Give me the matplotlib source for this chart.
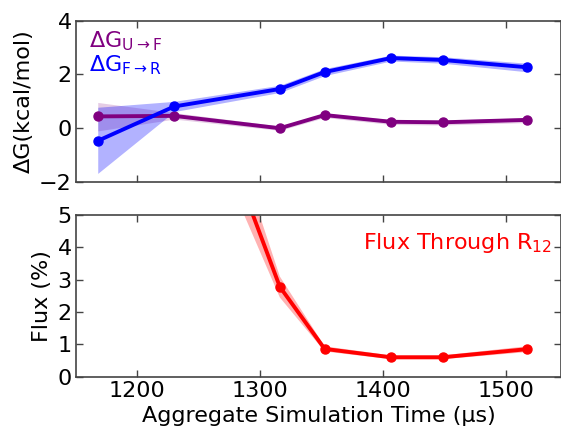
import matplotlib
matplotlib.use("Agg")
import matplotlib.pyplot as plt
import numpy as np

# Data
time_us = [1167.7, 1230, 1316, 1352.5, 1406.5, 1448.5, 1517]
dg_uf = [0.44, 0.46, 0.0, 0.49, 0.24, 0.22, 0.31]
dg_uf_lo = [-0.10, 0.34, -0.08, 0.40, 0.14, 0.12, 0.21]
dg_uf_hi = [0.96, 0.58, 0.08, 0.56, 0.32, 0.30, 0.39]
dg_fr = [-0.47, 0.81, 1.46, 2.09, 2.61, 2.54, 2.27]
dg_fr_lo = [-1.68, 0.62, 1.33, 1.96, 2.50, 2.42, 2.10]
dg_fr_hi = [0.78, 1.00, 1.60, 2.22, 2.72, 2.66, 2.42]
flux = [20.0, 11.5, 2.78, 0.86, 0.60, 0.60, 0.85]
flux_lo = [16.0, 10.0, 2.45, 0.78, 0.54, 0.54, 0.76]
flux_hi = [24.0, 13.0, 3.10, 0.94, 0.66, 0.66, 0.94]

purple = "#800080"
blue = "#0000ff"
red = "#ff0000"

plt.rcParams["mathtext.fontset"] = "dejavusans"
fig = plt.figure(figsize=(5.61, 4.33), dpi=100)
W, H = 561, 433
ax1 = fig.add_axes([76 / W, 1 - 182 / H, (561 - 76) / W, (182 - 20.7) / H])
ax2 = fig.add_axes([76 / W, 1 - 376.7 / H, (561 - 76) / W, (376.7 - 215) / H])

for ax in (ax1, ax2):
    ax.set_xlim(1150, 1545)
    for s in ax.spines.values():
        s.set_color("#444444")
        s.set_linewidth(1.2)
    ax.tick_params(direction="in", top=True, right=True, length=5, width=1,
                   color="#444444", labelsize=16, pad=3)
    ax.set_xticks([1200, 1300, 1400, 1500])

ax1.fill_between(time_us, dg_uf_lo, dg_uf_hi, color=purple, alpha=0.2, lw=0)
ax1.fill_between(time_us, dg_fr_lo, dg_fr_hi, color=blue, alpha=0.3, lw=0)
ax1.plot(time_us, dg_uf, "-o", color=purple, lw=2.8, ms=6.5)
ax1.plot(time_us, dg_fr, "-o", color=blue, lw=2.8, ms=6.5)
ax1.set_ylim(-2, 4)
ax1.set_yticks([-2, 0, 2, 4])
ax1.set_yticklabels(["\u22122", "0", "2", "4"])
ax1.set_xticklabels([])
ax1.set_ylabel("\u0394G(kcal/mol)", fontsize=16, labelpad=4)
ax1.text(0.027, 0.835, r"$\Delta\mathrm{G}_{\mathrm{U}\rightarrow\mathrm{F}}$", color=purple,
         fontsize=16, transform=ax1.transAxes, va="baseline")
ax1.text(0.027, 0.688, r"$\Delta\mathrm{G}_{\mathrm{F}\rightarrow\mathrm{R}}$", color=blue,
         fontsize=16, transform=ax1.transAxes, va="baseline")

ax2.fill_between(time_us, flux_lo, flux_hi, color=red, alpha=0.3, lw=0)
ax2.plot(time_us, flux, "-o", color=red, lw=2.8, ms=6.5)
ax2.set_ylim(0, 5)
ax2.set_yticks([0, 1, 2, 3, 4, 5])
ax2.set_ylabel("Flux (%)", fontsize=16, labelpad=4)
ax2.set_xlabel("Aggregate Simulation Time (\u03bcs)", fontsize=16, labelpad=4)
ax2.text(0.981, 0.788, r"Flux Through R$_{12}$", color=red, fontsize=16,
         transform=ax2.transAxes, ha="right", va="baseline")

fig.savefig("out.png", dpi=100)
